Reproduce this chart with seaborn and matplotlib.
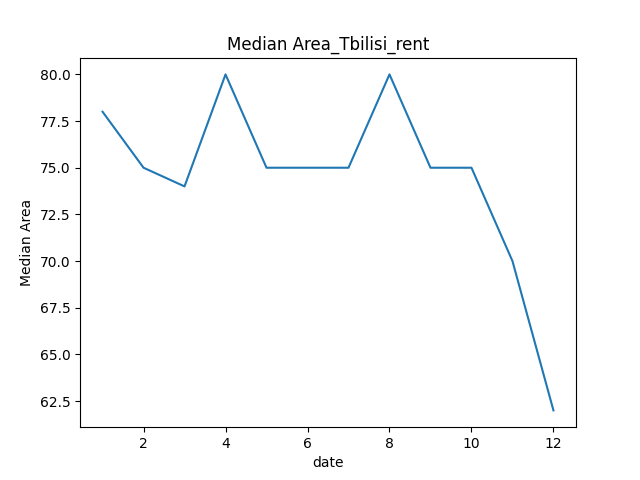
import matplotlib
matplotlib.use("Agg")
import matplotlib.pyplot as plt
import seaborn as sns
import pandas as pd

date = [1, 2, 3, 4, 5, 6, 7, 8, 9, 10, 11, 12]
median_area = [78, 75, 74, 80, 75, 75, 75, 80, 75, 75, 70, 62]

df = pd.DataFrame({"date": date, "Median Area": median_area})

fig, ax = plt.subplots(figsize=(6.4, 4.8), dpi=100)
sns.lineplot(data=df, x="date", y="Median Area", ax=ax)
ax.set_title("Median Area_Tbilisi_rent")
fig.savefig("out.png")
